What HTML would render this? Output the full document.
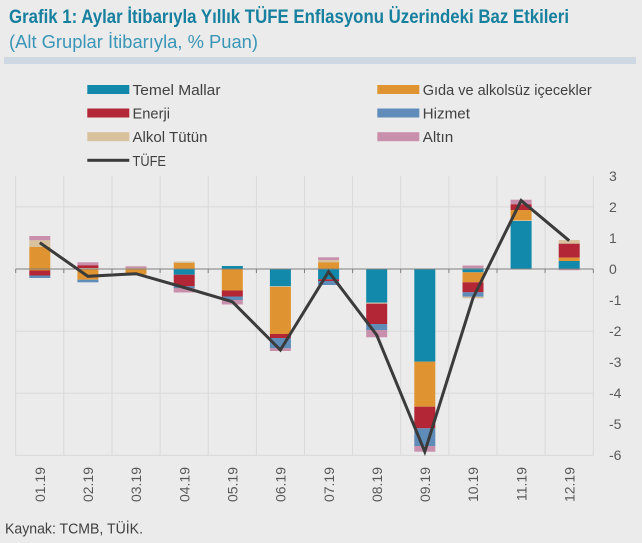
<!DOCTYPE html>
<html>
<head>
<meta charset="utf-8">
<style>
  html,body{margin:0;padding:0;background:#ebebeb;}
  svg{display:block;}
  text{font-family:"Liberation Sans","DejaVu Sans",sans-serif;}
</style>
</head>
<body>
<svg width="642" height="543" viewBox="0 0 642 543" xmlns="http://www.w3.org/2000/svg">
  <rect x="0" y="0" width="642" height="543" fill="#ebebeb"/>

  <!-- Title -->
  <text x="9" y="23" font-size="19" font-weight="bold" fill="#17809f" textLength="560" lengthAdjust="spacingAndGlyphs">Grafik 1: Aylar İtibarıyla Yıllık TÜFE Enflasyonu Üzerindeki Baz Etkileri</text>
  <text x="9" y="48" font-size="18" fill="#3a95b6" textLength="249" lengthAdjust="spacingAndGlyphs">(Alt Gruplar İtibarıyla, % Puan)</text>
  <rect x="4" y="57" width="632" height="7" fill="#cdd8e2"/>

  <!-- Legend -->
  <g font-size="15" fill="#404040">
    <rect x="87.3" y="85" width="42" height="9" fill="#1289aa"/>
    <text x="132.5" y="95" textLength="88" lengthAdjust="spacingAndGlyphs">Temel Mallar</text>
    <rect x="87.3" y="108.5" width="42" height="9" fill="#b22636"/>
    <text x="132.5" y="118.5" textLength="37.5" lengthAdjust="spacingAndGlyphs">Enerji</text>
    <rect x="87.3" y="132.2" width="42" height="9" fill="#d8c19d"/>
    <text x="132.5" y="142.2" textLength="75" lengthAdjust="spacingAndGlyphs">Alkol Tütün</text>
    <rect x="87.3" y="158.8" width="42" height="3" fill="#3b3b3b"/>
    <text x="132.5" y="165.8" textLength="33.5" lengthAdjust="spacingAndGlyphs">TÜFE</text>

    <rect x="377.3" y="85" width="42" height="9" fill="#df9431"/>
    <text x="422.7" y="95" textLength="169" lengthAdjust="spacingAndGlyphs">Gıda ve alkolsüz içecekler</text>
    <rect x="377.3" y="108.5" width="42" height="9" fill="#5f8cb9"/>
    <text x="422.7" y="118.5" textLength="47.3" lengthAdjust="spacingAndGlyphs">Hizmet</text>
    <rect x="377.3" y="132.2" width="42" height="9" fill="#c890ac"/>
    <text x="422.7" y="142.2" textLength="30.6" lengthAdjust="spacingAndGlyphs">Altın</text>
  </g>

  <!-- Gridlines -->
  <g stroke="#d9d9d9" stroke-width="1">
    <line x1="15.7" y1="176" x2="15.7" y2="455.4"/>
    <line x1="63.8" y1="176" x2="63.8" y2="455.4"/>
    <line x1="112" y1="176" x2="112" y2="455.4"/>
    <line x1="160.1" y1="176" x2="160.1" y2="455.4"/>
    <line x1="208.2" y1="176" x2="208.2" y2="455.4"/>
    <line x1="256.4" y1="176" x2="256.4" y2="455.4"/>
    <line x1="304.5" y1="176" x2="304.5" y2="455.4"/>
    <line x1="352.6" y1="176" x2="352.6" y2="455.4"/>
    <line x1="400.7" y1="176" x2="400.7" y2="455.4"/>
    <line x1="448.9" y1="176" x2="448.9" y2="455.4"/>
    <line x1="497" y1="176" x2="497" y2="455.4"/>
    <line x1="545.1" y1="176" x2="545.1" y2="455.4"/>
    <line x1="593.3" y1="176" x2="593.3" y2="455.4"/>
    <line x1="15.7" y1="206.9" x2="593.3" y2="206.9"/>
    <line x1="15.7" y1="331.2" x2="593.3" y2="331.2"/>
    <line x1="15.7" y1="393.3" x2="593.3" y2="393.3"/>
    <line x1="15.7" y1="455.4" x2="593.3" y2="455.4"/>
  </g>

  <!-- Bars -->
  <!-- 01 -->
  <g>
    <rect x="29.3" y="236" width="21" height="4.3" fill="#c890ac"/>
    <rect x="29.3" y="240.3" width="21" height="6.7" fill="#d8c19d"/>
    <rect x="29.3" y="247" width="21" height="23.5" fill="#df9431"/>
    <rect x="29.3" y="270.5" width="21" height="5" fill="#b22636"/>
    <rect x="29.3" y="275.5" width="21" height="2.5" fill="#5f8cb9"/>
  </g>
  <!-- 02 -->
  <g>
    <rect x="77.4" y="262.3" width="21" height="3" fill="#c890ac"/>
    <rect x="77.4" y="265.3" width="21" height="2.8" fill="#b22636"/>
    <rect x="77.4" y="268.1" width="21" height="1" fill="#d8c19d"/>
    <rect x="77.4" y="269" width="21" height="10.7" fill="#df9431"/>
    <rect x="77.4" y="279.7" width="21" height="2.6" fill="#5f8cb9"/>
  </g>
  <!-- 03 -->
  <g>
    <rect x="125.5" y="266.3" width="21" height="2" fill="#c890ac"/>
    <rect x="125.5" y="268.3" width="21" height="6.2" fill="#df9431"/>
  </g>
  <!-- 04 -->
  <g>
    <rect x="173.7" y="261.5" width="21" height="1.5" fill="#d8c19d"/>
    <rect x="173.7" y="263" width="21" height="6" fill="#df9431"/>
    <rect x="173.7" y="269" width="21" height="5.7" fill="#1289aa"/>
    <rect x="173.7" y="274.7" width="21" height="11.6" fill="#b22636"/>
    <rect x="173.7" y="286.3" width="21" height="1.7" fill="#5f8cb9"/>
    <rect x="173.7" y="288" width="21" height="4.5" fill="#c890ac"/>
  </g>
  <!-- 05 -->
  <g>
    <rect x="221.8" y="266" width="21" height="3" fill="#1289aa"/>
    <rect x="221.8" y="269" width="21" height="21.5" fill="#df9431"/>
    <rect x="221.8" y="290.5" width="21" height="6" fill="#b22636"/>
    <rect x="221.8" y="296.5" width="21" height="3.5" fill="#5f8cb9"/>
    <rect x="221.8" y="300" width="21" height="4.5" fill="#c890ac"/>
  </g>
  <!-- 06 -->
  <g>
    <rect x="269.9" y="269" width="21" height="17.3" fill="#1289aa"/>
    <rect x="269.9" y="286.3" width="21" height="0.7" fill="#d8c19d"/>
    <rect x="269.9" y="287" width="21" height="47" fill="#df9431"/>
    <rect x="269.9" y="334" width="21" height="4" fill="#b22636"/>
    <rect x="269.9" y="338" width="21" height="10.3" fill="#5f8cb9"/>
    <rect x="269.9" y="348.3" width="21" height="2.7" fill="#c890ac"/>
  </g>
  <!-- 07 -->
  <g>
    <rect x="318.1" y="257.3" width="21" height="2.7" fill="#c890ac"/>
    <rect x="318.1" y="260" width="21" height="2.3" fill="#d8c19d"/>
    <rect x="318.1" y="262.3" width="21" height="6.7" fill="#df9431"/>
    <rect x="318.1" y="269" width="21" height="10.3" fill="#1289aa"/>
    <rect x="318.1" y="279.3" width="21" height="1.7" fill="#b22636"/>
    <rect x="318.1" y="281" width="21" height="4" fill="#5f8cb9"/>
  </g>
  <!-- 08 -->
  <g>
    <rect x="366.2" y="269" width="21" height="33.7" fill="#1289aa"/>
    <rect x="366.2" y="302.7" width="21" height="1" fill="#d8c19d"/>
    <rect x="366.2" y="303.7" width="21" height="20.3" fill="#b22636"/>
    <rect x="366.2" y="324" width="21" height="6" fill="#5f8cb9"/>
    <rect x="366.2" y="330" width="21" height="7.3" fill="#c890ac"/>
  </g>
  <!-- 09 -->
  <g>
    <rect x="414.3" y="269" width="21" height="92.7" fill="#1289aa"/>
    <rect x="414.3" y="361.7" width="21" height="45" fill="#df9431"/>
    <rect x="414.3" y="406.7" width="21" height="21.6" fill="#b22636"/>
    <rect x="414.3" y="428.3" width="21" height="17.7" fill="#5f8cb9"/>
    <rect x="414.3" y="446" width="21" height="5.7" fill="#c890ac"/>
  </g>
  <!-- 10 -->
  <g>
    <rect x="462.5" y="265.5" width="21" height="2.8" fill="#c890ac"/>
    <rect x="462.5" y="268.3" width="21" height="4" fill="#1289aa"/>
    <rect x="462.5" y="272.3" width="21" height="10" fill="#df9431"/>
    <rect x="462.5" y="282.3" width="21" height="10" fill="#b22636"/>
    <rect x="462.5" y="292.3" width="21" height="4.4" fill="#5f8cb9"/>
    <rect x="462.5" y="296.7" width="21" height="1.6" fill="#d8c19d"/>
  </g>
  <!-- 11 -->
  <g>
    <rect x="510.6" y="199.7" width="21" height="4.6" fill="#c890ac"/>
    <rect x="510.6" y="204.3" width="21" height="5.7" fill="#b22636"/>
    <rect x="510.6" y="210" width="21" height="10.3" fill="#df9431"/>
    <rect x="510.6" y="220.3" width="21" height="0.7" fill="#d8c19d"/>
    <rect x="510.6" y="221" width="21" height="48" fill="#1289aa"/>
  </g>
  <!-- 12 -->
  <g>
    <rect x="558.7" y="240" width="21" height="3.7" fill="#d8c19d"/>
    <rect x="558.7" y="243.7" width="21" height="14" fill="#b22636"/>
    <rect x="558.7" y="257.7" width="21" height="3.3" fill="#df9431"/>
    <rect x="558.7" y="261" width="21" height="8" fill="#1289aa"/>
    <rect x="558.7" y="269" width="21" height="1.2" fill="#c890ac"/>
  </g>

  <!-- Zero axis + ticks -->
  <g stroke="#7f7f7f" stroke-width="1">
    <line x1="15.7" y1="269" x2="593.3" y2="269"/>
    <line x1="15.7" y1="269" x2="15.7" y2="273"/>
    <line x1="63.8" y1="269" x2="63.8" y2="273"/>
    <line x1="112" y1="269" x2="112" y2="273"/>
    <line x1="160.1" y1="269" x2="160.1" y2="273"/>
    <line x1="208.2" y1="269" x2="208.2" y2="273"/>
    <line x1="256.4" y1="269" x2="256.4" y2="273"/>
    <line x1="304.5" y1="269" x2="304.5" y2="273"/>
    <line x1="352.6" y1="269" x2="352.6" y2="273"/>
    <line x1="400.7" y1="269" x2="400.7" y2="273"/>
    <line x1="448.9" y1="269" x2="448.9" y2="273"/>
    <line x1="497" y1="269" x2="497" y2="273"/>
    <line x1="545.1" y1="269" x2="545.1" y2="273"/>
    <line x1="593.3" y1="269" x2="593.3" y2="273"/>
  </g>

  <!-- TÜFE line -->
  <polyline fill="none" stroke="#3b3b3b" stroke-width="3" stroke-linejoin="miter"
    points="39.8,242.7 87.9,276.3 136,273.7 184.2,287.5 232.3,301.7 280.4,350 328.6,271.7 376.7,335 424.8,451.7 473,298 521.1,200.5 569.2,240.7"/>

  <!-- Y axis labels -->
  <g font-size="14" fill="#595959">
    <text x="609" y="181">3</text>
    <text x="609" y="212">2</text>
    <text x="609" y="243">1</text>
    <text x="609" y="274">0</text>
    <text x="609" y="305">-1</text>
    <text x="609" y="336">-2</text>
    <text x="609" y="367">-3</text>
    <text x="609" y="398">-4</text>
    <text x="609" y="429">-5</text>
    <text x="609" y="460">-6</text>
  </g>

  <!-- X axis labels -->
  <g font-size="14" fill="#595959" text-anchor="end">
    <text transform="translate(45,467) rotate(-90)">01.19</text>
    <text transform="translate(93.1,467) rotate(-90)">02.19</text>
    <text transform="translate(141.2,467) rotate(-90)">03.19</text>
    <text transform="translate(189.4,467) rotate(-90)">04.19</text>
    <text transform="translate(237.5,467) rotate(-90)">05.19</text>
    <text transform="translate(285.6,467) rotate(-90)">06.19</text>
    <text transform="translate(333.8,467) rotate(-90)">07.19</text>
    <text transform="translate(381.9,467) rotate(-90)">08.19</text>
    <text transform="translate(430,467) rotate(-90)">09.19</text>
    <text transform="translate(478.2,467) rotate(-90)">10.19</text>
    <text transform="translate(526.3,467) rotate(-90)">11.19</text>
    <text transform="translate(574.4,467) rotate(-90)">12.19</text>
  </g>

  <!-- Source -->
  <text x="5" y="533.5" font-size="15" fill="#404040" textLength="138" lengthAdjust="spacingAndGlyphs">Kaynak: TCMB, TÜİK.</text>
</svg>
</body>
</html>
